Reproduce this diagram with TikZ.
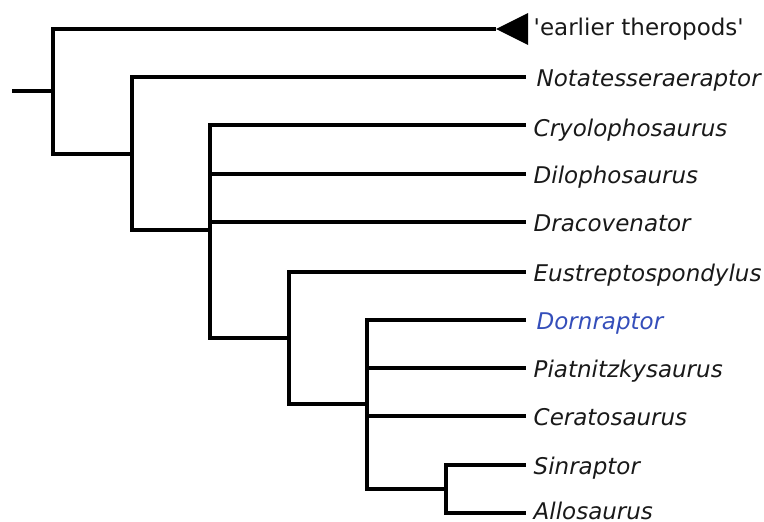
\documentclass[tikz,border=0pt]{standalone}
\usepackage{fontspec}
\setmainfont{DejaVu Sans}
\usepackage{xcolor}
\definecolor{dornblue}{RGB}{52,78,186}

\begin{document}
\begin{tikzpicture}[x=1pt,y=-1pt,line width=3.4pt,
		taxon/.style={anchor=base west,inner sep=0pt,xshift=6pt,yshift=-9.5pt,font=\fontsize{23}{27}\selectfont\itshape,text=black!90}]
		\useasboundingbox(0,0)rectangle(764,522);
		\coordinate(stem)at(12,91);
		\coordinate(n1)at(53,91);
		\coordinate(n2)at(132,154);
		\coordinate(n3)at(210,230);
		\coordinate(n4)at(289,338);
		\coordinate(n5)at(367,404);
		\coordinate(n6)at(446,489);
		\coordinate(tip)at(496,29);
		\coordinate(tri)at(528,29);
		\coordinate(nota)at(526,77);
		\coordinate(cryo)at(526,125);
		\coordinate(dilo)at(526,174);
		\coordinate(draco)at(526,222);
		\coordinate(eust)at(526,272);
		\coordinate(dorn)at(526,320);
		\coordinate(piat)at(526,368);
		\coordinate(cera)at(526,416);
		\coordinate(sin)at(526,465);
		\coordinate(allo)at(526,513);
		\draw(stem)--(n1);
		\draw(n1)|-(tip);
		\draw(n1)|-(n2);
		\draw(n2)|-(nota);
		\draw(n2)|-(n3);
		\draw(n3)|-(cryo);
		\draw(n3)|-(dilo);
		\draw(n3)|-(draco);
		\draw(n3)|-(n4);
		\draw(n4)|-(eust);
		\draw(n4)|-(n5);
		\draw(n5)|-(dorn);
		\draw(n5)|-(piat);
		\draw(n5)|-(cera);
		\draw(n5)|-(n6);
		\draw(n6)|-(sin);
		\draw(n6)|-(allo);
		\fill(tip)--([yshift=16pt]tri)--([yshift=-16pt]tri)--cycle;
		\node[taxon,xshift=-2pt,yshift=3.5pt,font=\fontsize{23}{27}\selectfont](earlierT)at(tri){\textquotesingle earlier theropods\textquotesingle};
		\node[taxon,xshift=3pt](notaT)at(nota){Notatesseraeraptor};
		\node[taxon,yshift=-1.5pt](cryoT)at(cryo){Cryolophosaurus};
		\node[taxon](diloT)at(dilo){Dilophosaurus};
		\node[taxon](dracoT)at(draco){Dracovenator};
		\node[taxon](eustT)at(eust){Eustreptospondylus};
		\node[taxon,text=dornblue,xshift=3pt](dornT)at(dorn){Dornraptor};
		\node[taxon](piatT)at(piat){Piatnitzkysaurus};
		\node[taxon](ceraT)at(cera){Ceratosaurus};
		\node[taxon](sinT)at(sin){Sinraptor};
		\node[taxon,yshift=3pt](alloT)at(allo){Allosaurus};
		\end{tikzpicture}
\end{document}
